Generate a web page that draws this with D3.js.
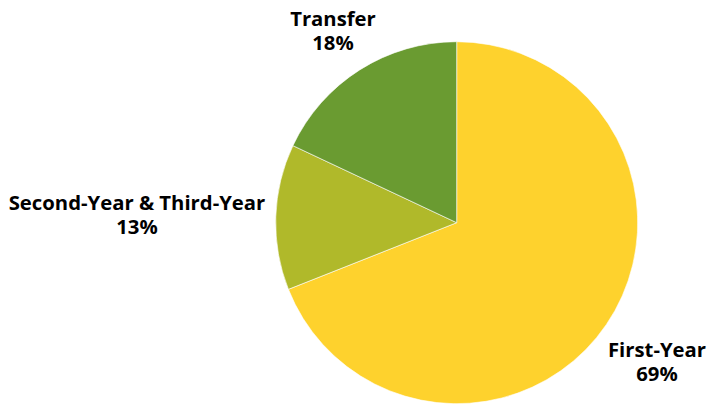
<!DOCTYPE html>
<html>
<head>
<meta charset="utf-8">
<script src="https://cdn.jsdelivr.net/npm/d3@7"></script>
<style>
  body { margin: 0; background: #fff; }
  svg text { font-family: "Open Sans", sans-serif; font-weight: 700; font-size: 20.3px; fill: #000; }
</style>
</head>
<body>
<div id="chart"></div>
<script>
// 数据
var categories = ['First-Year', 'Second-Year & Third-Year', 'Transfer']
var values = [69, 13, 18]
var colors = ['#FED22D', '#B0B92A', '#6A9B31']

var width = 707
var height = 405
var cx = 456.7
var cy = 222.7
var radius = 181

// 标签位置（第一行基线）
var labelPos = [
  { x: 657, y: 357 },
  { x: 137, y: 210 },
  { x: 333, y: 26 }
]

var data = categories.map(function (c, i) {
  return { name: c, value: values[i], color: colors[i], label: labelPos[i] }
})

var svg = d3.select('#chart').append('svg')
  .attr('width', width)
  .attr('height', height)

var pie = d3.pie().sort(null).value(d => d.value)
var arc = d3.arc().innerRadius(0).outerRadius(radius)

var g = svg.append('g').attr('transform', 'translate(' + cx + ',' + cy + ')')

g.selectAll('path')
  .data(pie(data))
  .enter()
  .append('path')
  .attr('d', arc)
  .attr('fill', d => d.data.color)
  .attr('stroke', '#fff')
  .attr('stroke-width', 0.6)

var labels = svg.selectAll('text.v-label')
  .data(data)
  .enter()
  .append('text')
  .attr('class', 'v-label')
  .attr('text-anchor', 'middle')
  .attr('x', d => d.label.x)
  .attr('y', d => d.label.y)

labels.append('tspan')
  .attr('x', d => d.label.x)
  .text(d => d.name)
labels.append('tspan')
  .attr('x', d => d.label.x)
  .attr('dy', 23.5)
  .text(d => d.value + '%')
</script>
</body>
</html>
